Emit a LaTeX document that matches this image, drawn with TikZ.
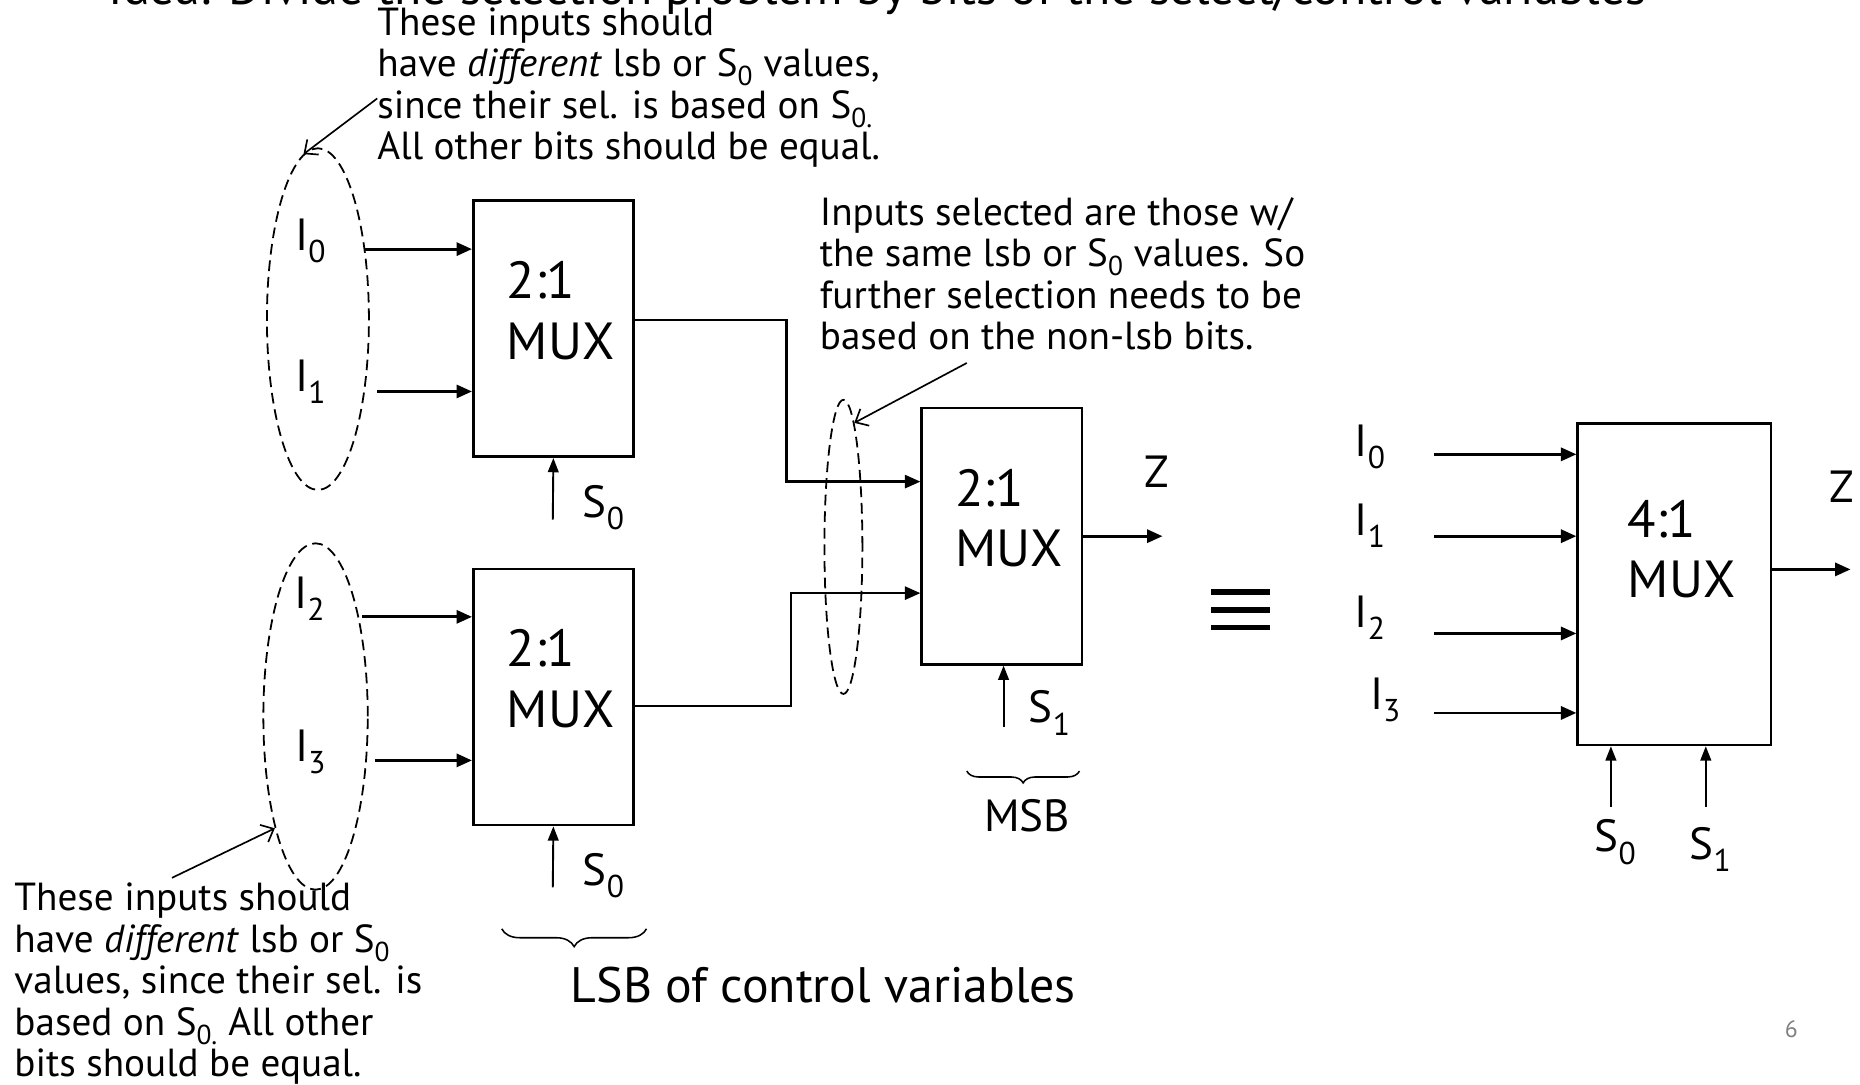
\documentclass[tikz,border=0pt]{standalone}
\usepackage{fontspec}
\setmainfont{PT Sans}
\usetikzlibrary{arrows.meta,shapes.geometric,decorations.pathreplacing,positioning}
\newcommand{\sbx}[1]{\textsubscript{#1}}

\begin{document}
\begin{tikzpicture}[x=1pt,y=-1pt,
  mux/.style={draw,line width=2.2pt,minimum width=135pt,minimum height=216pt,inner sep=0pt},
  big/.style={font=\fontsize{44}{51}\selectfont,align=left,inner sep=0pt},
  lbl/.style={font=\fontsize{38}{44}\selectfont,inner sep=0pt},
  note/.style={font=\fontsize{33}{35}\selectfont,align=left,inner sep=0pt},
  sig/.style={line width=2.4pt,-{Triangle[length=13pt,width=11pt]}},
  sel/.style={line width=1.6pt,-{Triangle[length=12pt,width=9pt]}},
  grp/.style={draw,dash pattern=on 9pt off 5pt,ellipse,line width=1.5pt,inner sep=0pt},
  pointer/.style={line width=1.4pt,-{Straight Barb[length=9pt,width=16pt]}},
  brc/.style={decorate,decoration={brace,mirror,amplitude=#1},line width=1.3pt}]
\useasboundingbox (0,0) rectangle (1568,914);
\clip (0,0) rectangle (1568,914);

\node[anchor=base west,font=\fontsize{42}{48}\selectfont] (title) at (88,4) {Idea: Divide the selection problem by bits of the select/control variables};

% first stage
\node[mux] (m1) at (466.5,277) {};
\node[big,anchor=west] (m1t) at (427,262) {2:1\\MUX};
\node[mux] (m2) at (466.5,587.5) {};
\node[big,anchor=west] (m2t) at (427,572) {2:1\\MUX};

\node[grp,minimum width=86pt,minimum height=288pt] (g1) at (268,269) {};
\node[grp,minimum width=88pt,minimum height=292pt] (g2) at (266,604) {};

\node[lbl] (i0) at (262,203) {I\sbx{0}};
\node[lbl] (i1) at (262,322) {I\sbx{1}};
\node[lbl] (i2) at (261,505) {I\sbx{2}};
\node[lbl] (i3) at (262,634) {I\sbx{3}};

\coordinate (a0) at (307,210);
\coordinate (a1) at (318,330);
\coordinate (a2) at (305,520);
\coordinate (a3) at (316,641);
\draw[sig] (a0) -- (a0 -| m1.west);
\draw[sig] (a1) -- (a1 -| m1.west);
\draw[sig] (a2) -- (a2 -| m2.west);
\draw[sig] (a3) -- (a3 -| m2.west);

\coordinate (s1) at (466,438);
\coordinate (s2) at (466,748);
\draw[sel] (s1) -- (m1.south);
\draw[sel] (s2) -- (m2.south);
\node[lbl] (s1t) at (509,428) {S\sbx{0}};
\node[lbl] (s2t) at (509,738) {S\sbx{0}};

% second stage
\node[mux] (m3) at (844.5,452) {};
\node[big,anchor=west] (m3t) at (805,437) {2:1\\MUX};
\coordinate (j1) at (663,406);
\coordinate (j2) at (667,500);
\draw[sig,line width=2pt] ([yshift=7pt]m1.east) -| (j1) -- (j1 -| m3.west);
\draw[sig,line width=2pt] ([yshift=-7.5pt]m2.east) -| (j2) -- (j2 -| m3.west);
\node[grp,minimum width=32pt,minimum height=248pt] (g3) at (711,461) {};

\coordinate (z1) at (980,452);
\draw[sig] (m3.east) -- (z1);
\node[lbl] (z1t) at (975,398) {Z};
\coordinate (s3) at (846,613);
\draw[sel] (s3) -- (s3 |- m3.south);
\node[lbl] (s3t) at (885,601) {S\sbx{1}};

\draw[brc=10pt] (815,650) -- (910,650);
\node[lbl] (msb) at (866,688) {MSB};
\draw[brc=15pt] (423,783) -- (545,783);
\node[anchor=west,inner sep=0pt,font=\fontsize{42}{50}\selectfont] (lsb) at (481,830) {LSB of control variables};

% notes
\node[note,anchor=north west] (n1) at (318,6) {These inputs should\\have \emph{different} lsb or S\sbx{0} values,\\since their sel. is based on S\sbx{0.}\\All other bits should be equal.};
\coordinate (p1) at (318,83);
\draw[pointer] (p1) -- (g1.95);
\node[note,anchor=north west] (n2) at (12,744) {These inputs should\\have \emph{different} lsb or S\sbx{0}\\values, since their sel. is\\based on S\sbx{0.} All other\\bits should be equal.};
\coordinate (p2) at (145,740);
\draw[pointer] (p2) -- (g2.250);
\node[note,anchor=north west] (n3) at (691,166) {Inputs selected are those w/\\the same lsb or S\sbx{0} values. So\\further selection needs to be\\based on the non-lsb bits.};
\coordinate (p3) at (815,306);
\draw[pointer] (p3) -- (g3.85);

% equivalent
\foreach \yy in {499,514,529}
  \draw[line width=5pt] (1021,\yy) -- (1071,\yy);

% 4:1 mux
\node[mux,minimum width=163pt,minimum height=271pt] (m4) at (1411.5,492.5) {};
\node[big,anchor=west] (m4t) at (1372,463) {4:1\\MUX};
\node[lbl] (r0) at (1155,377) {I\sbx{0}};
\node[lbl] (r1) at (1155,443) {I\sbx{1}};
\node[lbl] (r2) at (1155,521) {I\sbx{2}};
\node[lbl] (r3) at (1168,590) {I\sbx{3}};
\coordinate (c0) at (1209,383);
\coordinate (c1) at (1209,452);
\coordinate (c2) at (1209,534);
\coordinate (c3) at (1209,601);
\foreach \c in {c0,c1,c2,c3}
  \draw[sig] (\c) -- (\c -| m4.west);
\coordinate (z2) at (1560,480);
\draw[sig] (z2 -| m4.east) -- (z2);
\node[lbl] (z2t) at (1553,410) {Z};
\coordinate (s4) at (1358,680);
\coordinate (s5) at (1438,680);
\draw[sel] (s4) -- (s4 |- m4.south);
\draw[sel] (s5) -- (s5 |- m4.south);
\node[lbl] (s4t) at (1362,710) {S\sbx{0}};
\node[lbl] (s5t) at (1442,716) {S\sbx{1}};

\node[font=\fontsize{20}{24}\selectfont,text=gray] (pg) at (1510,868) {6};
\end{tikzpicture}
\end{document}
